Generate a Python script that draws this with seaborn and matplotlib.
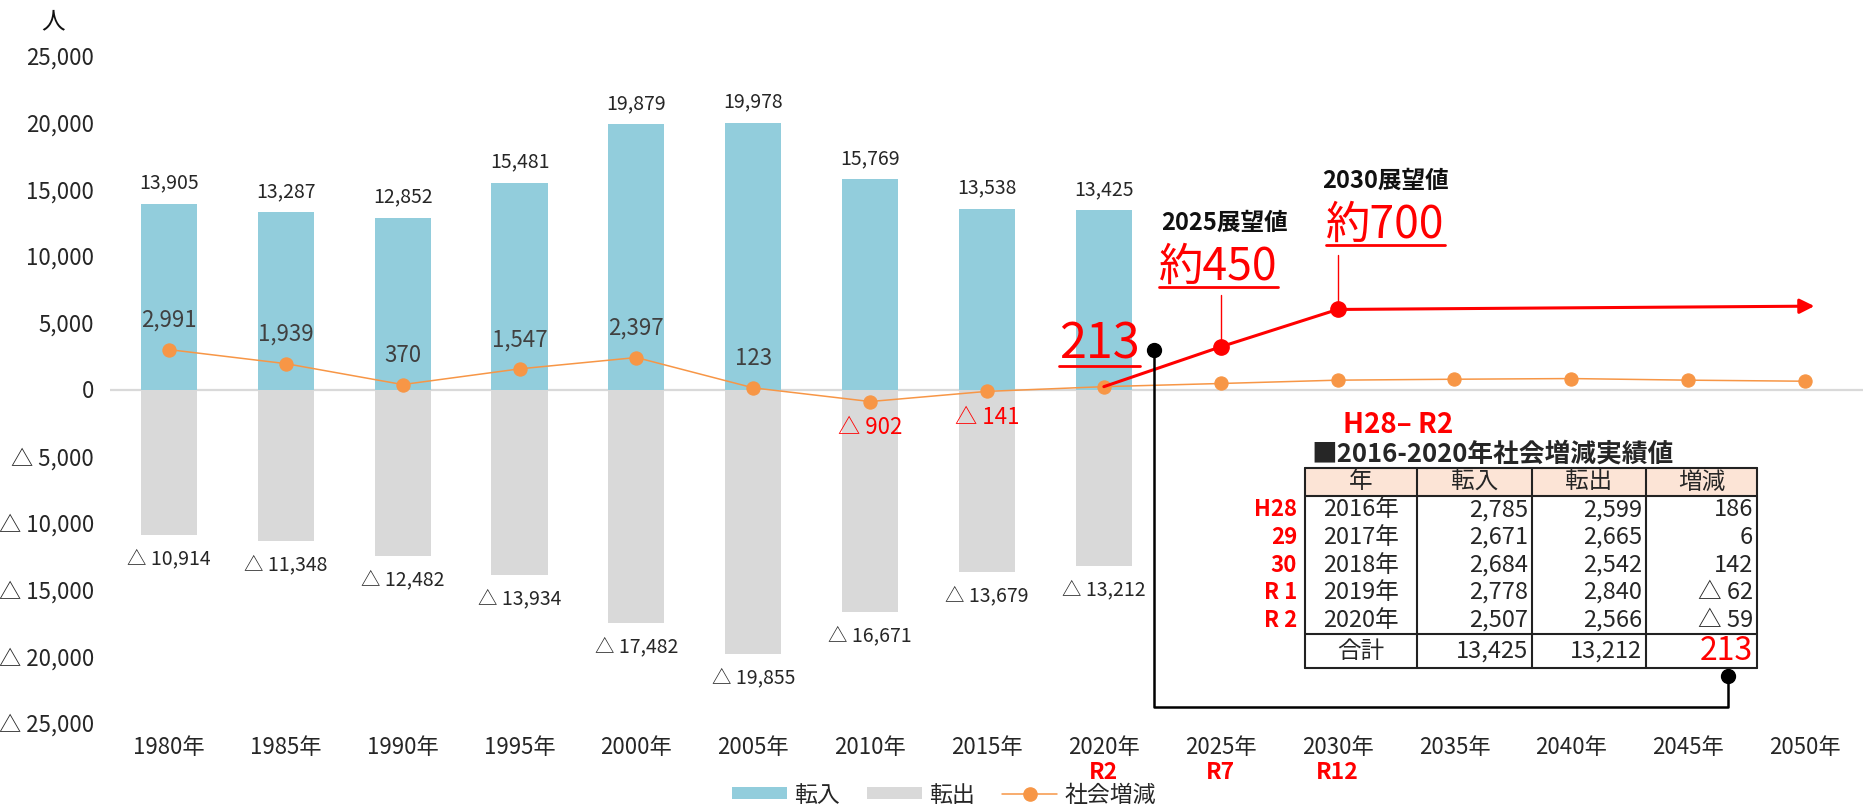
import matplotlib
matplotlib.use('Agg')
import matplotlib.pyplot as plt
import matplotlib.ticker as mticker
from matplotlib.lines import Line2D
from matplotlib.patches import Patch, Rectangle
import pandas as pd
import seaborn as sns

# ---- data ----
years = ['1980年', '1985年', '1990年', '1995年', '2000年', '2005年', '2010年', '2015年',
         '2020年', '2025年', '2030年', '2035年', '2040年', '2045年', '2050年']
hist_years = years[:9]
inflow = [13905, 13287, 12852, 15481, 19879, 19978, 15769, 13538, 13425]
outflow = [10914, 11348, 12482, 13934, 17482, 19855, 16671, 13679, 13212]
net = [2991, 1939, 370, 1547, 2397, 123, -902, -141, 213, 450, 700, 770, 820, 700, 620]
wareki = {'2020年': 'R2', '2025年': 'R7', '2030年': 'R12'}

# red "vision" line (schematic, drawn above the real values)
vision_years = ['2020年', '2025年', '2030年']
vision_vals = [213, 3200, 6000]
vision_end = 6250

table_cols = ['年', '転入', '転出', '増減']
table_era = ['H28', '29', '30', 'R 1', 'R 2']
table_years = ['2016年', '2017年', '2018年', '2019年', '2020年']
table_in = [2785, 2671, 2684, 2778, 2507]
table_out = [2599, 2665, 2542, 2840, 2566]
table_net = [186, 6, 142, -62, -59]

BLUE = '#92CDDC'
GRAY = '#D9D9D9'
ORANGE = '#F79646'
RED = '#FF0000'
TXT = '#404040'


def tri(v):
    return f'{v:,.0f}' if v >= 0 else f'△ {-v:,.0f}'


sns.set_style('white')
plt.rcParams['font.family'] = ['Noto Sans CJK JP', 'DejaVu Sans']

W, H = 1874, 807
fig = plt.figure(figsize=(W / 100, H / 100), dpi=100)


def fx(px):
    return px / W


def fy(py):
    return 1 - py / H


ax = fig.add_axes([fx(110.5), fy(723), fx(1863.5) - fx(110.5), fy(56) - fy(723)])

df_hist = pd.DataFrame({'year': hist_years, 'in': inflow, 'out': [-v for v in outflow]})
df_net = pd.DataFrame({'year': years, 'net': net})

sns.barplot(data=df_hist, x='year', y='in', order=years, color=BLUE, saturation=1,
            width=0.48, linewidth=0, ax=ax)
sns.barplot(data=df_hist, x='year', y='out', order=years, color=GRAY, saturation=1,
            width=0.48, linewidth=0, ax=ax)
ax.axhline(0, color=GRAY, lw=1.6, zorder=0.5)
sns.pointplot(data=df_net, x='year', y='net', order=years, color=ORANGE, markers='o',
              markersize=9.5, linewidth=1.1, ax=ax, zorder=3)

ax.set_ylim(-25000, 25000)
ax.set_xlim(-0.5, len(years) - 0.5)
ax.set_yticks(range(-25000, 25001, 5000))
ax.yaxis.set_major_formatter(mticker.FuncFormatter(lambda v, p: tri(v)))
ax.tick_params(axis='y', length=0, labelsize=16, pad=12, labelcolor='#262626')
ax.tick_params(axis='x', length=0, labelsize=16, pad=9, labelcolor='#262626')
ax.set_xlabel('')
ax.set_ylabel('')
sns.despine(ax=ax, left=True, bottom=True)

# bar labels
for i, v in enumerate(inflow):
    ax.annotate(f'{v:,}', (i, v), xytext=(0, 15), textcoords='offset points',
                ha='center', va='center', fontsize=14, color='#262626')
for i, v in enumerate(outflow):
    ax.annotate(tri(-v), (i, -v), xytext=(0, -17), textcoords='offset points',
                ha='center', va='center', fontsize=14, color='#262626')
# net labels (2020 value shown separately, large)
for i, v in enumerate(net[:8]):
    ax.annotate(tri(v), (i, v), xytext=(0, 21 if v >= 0 else -19), textcoords='offset points',
                ha='center', va='center', fontsize=16,
                color=TXT if v >= 0 else RED)

# era labels under the year ticks
for y, lab in wareki.items():
    ax.text(years.index(y), -0.0735, lab, transform=ax.get_xaxis_transform(),
            ha='center', va='center', fontsize=16.5, fontweight='bold', color=RED)

# red vision line
vx = [years.index(y) for y in vision_years]
ax.plot(vx, vision_vals, color=RED, lw=2.2, zorder=4)
ax.annotate('', xy=(14.08, vision_end), xytext=(vx[-1], vision_vals[-1]),
            arrowprops=dict(arrowstyle='-|>', color=RED, lw=2.2, mutation_scale=22,
                            shrinkA=0, shrinkB=0), zorder=4)
ax.plot(vx[1:], vision_vals[1:], 'o', color=RED, ms=11, zorder=5)

renderer = fig.canvas.get_renderer()


def underline(t, gap=3, lw=2):
    bb = t.get_window_extent(renderer)
    y = bb.y0 + gap
    fig.add_artist(Line2D([bb.x0 / W, bb.x1 / W], [y / H, y / H], color=RED, lw=lw))
    return bb


t = ax.text(7.96, 3370, '213', ha='center', va='center', fontsize=35, color=RED)
underline(t)

ax.text(9.03, 12500, '2025展望値', ha='center', va='center', fontsize=17,
        fontweight='bold', color='#111111')
t = ax.text(8.98, 9200, '約450', ha='center', va='center', fontsize=32, color=RED)
underline(t)
ax.plot([vx[1], vx[1]], [7100, vision_vals[1]], color=RED, lw=1)

ax.text(10.41, 15640, '2030展望値', ha='center', va='center', fontsize=17,
        fontweight='bold', color='#111111')
t = ax.text(10.41, 12350, '約700', ha='center', va='center', fontsize=32, color=RED)
underline(t)
ax.plot([vx[2], vx[2]], [10100, vision_vals[2]], color=RED, lw=1)

fig.text(fx(53), fy(22), '人', ha='center', va='center', fontsize=17, color='#111111')

# legend
handles = [Patch(facecolor=BLUE, edgecolor='none'),
           Patch(facecolor=GRAY, edgecolor='none'),
           Line2D([], [], color=ORANGE, lw=1.1, marker='o', ms=9.5)]
fig.legend(handles, ['転入', '転出', '社会増減'], loc='center', bbox_to_anchor=(fx(944), fy(795)),
           ncol=3, frameon=False, fontsize=16.5, handlelength=2.4, handleheight=0.45,
           columnspacing=1.2, handletextpad=0.3)

# ---- inset table ----
tx0, tx1, ty0, ty1 = 1305, 1757, 468, 668
axt = fig.add_axes([fx(tx0), fy(ty1), fx(tx1) - fx(tx0), fy(ty0) - fy(ty1)])
axt.set_xlim(0, tx1 - tx0)
axt.set_ylim(ty1 - ty0, 0)
axt.axis('off')
cols = [0, 112, 227, 341, 452]
rows = [0, 28, 55.6, 83.2, 110.8, 138.4, 166, 200]
axt.add_patch(Rectangle((0, 0), 452, 28, facecolor='#FCE4D6', edgecolor='none'))
for c in cols:
    axt.plot([c, c], [0, 200], color='#222222', lw=1.5, clip_on=False)
for r in [0, 28, 166, 200]:
    axt.plot([0, 452], [r, r], color='#222222', lw=1.5, clip_on=False)
for j, h in enumerate(table_cols):
    axt.text((cols[j] + cols[j + 1]) / 2, 14, h, ha='center', va='center', fontsize=17)
for i in range(5):
    yc = (rows[i + 1] + rows[i + 2]) / 2
    axt.text(-8, yc, table_era[i], ha='right', va='center', fontsize=16,
             fontweight='bold', color=RED, clip_on=False)
    axt.text((cols[0] + cols[1]) / 2, yc, table_years[i], ha='center', va='center', fontsize=17)
    for j, v in enumerate([table_in[i], table_out[i], table_net[i]]):
        axt.text(cols[j + 2] - 4, yc, tri(v), ha='right', va='center', fontsize=17)
yc = (rows[6] + rows[7]) / 2
axt.text((cols[0] + cols[1]) / 2, yc, '合計', ha='center', va='center', fontsize=17)
axt.text(cols[2] - 4, yc, f'{sum(table_in):,}', ha='right', va='center', fontsize=17)
axt.text(cols[3] - 4, yc, f'{sum(table_out):,}', ha='right', va='center', fontsize=17)
axt.text(cols[4] - 4, yc, f'{sum(table_net):,}', ha='right', va='center', fontsize=23, color=RED)
axt.text(6, -14, '■2016-2020年社会増減実績値', ha='left', va='center', fontsize=18.5,
         fontweight='bold', clip_on=False)
axt.text(93, -43, 'H28– R2', ha='center', va='center', fontsize=20,
         fontweight='bold', color=RED, clip_on=False)

# black connector between the table total and the 2020 value
fig.add_artist(Line2D([fx(1154), fx(1154), fx(1728), fx(1728)],
                      [fy(350), fy(707), fy(707), fy(676)], color='black', lw=1.8))
fig.add_artist(Line2D([fx(1154), fx(1728)], [fy(350), fy(676)], ls='none',
                      marker='o', ms=10, color='black'))

fig.savefig('out.png', dpi=100)
